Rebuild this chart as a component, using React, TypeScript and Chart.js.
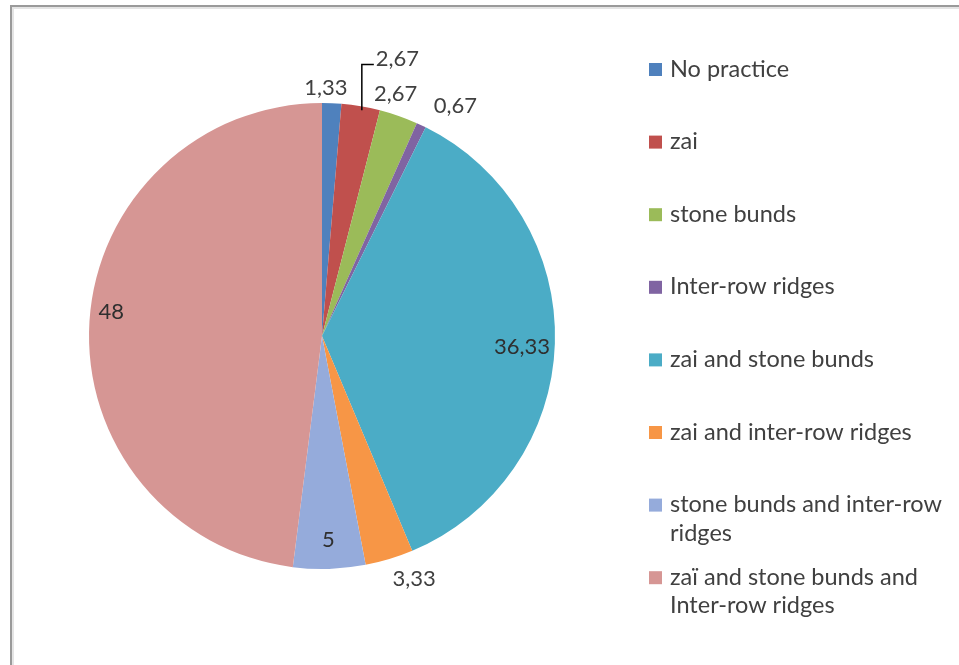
import { useEffect, useRef } from "react";
import { Chart, registerables } from "chart.js";

Chart.register(...registerables);

const categories = [
  "No practice",
  "zai",
  "stone bunds",
  "Inter-row ridges",
  "zai and stone bunds",
  "zai and inter-row ridges",
  "stone bunds and inter-row ridges",
  "zaï and stone bunds and Inter-row ridges",
];
const shares = [1.33, 2.67, 2.67, 0.67, 36.33, 3.33, 5, 48];
const valueLabels = ["1,33", "2,67", "2,67", "0,67", "36,33", "3,33", "5", "48"];
const sliceColors = [
  "#4F81BD",
  "#C0504D",
  "#9BBB59",
  "#8064A2",
  "#4BACC6",
  "#F79646",
  "#95ABDB",
  "#D69694",
];

// label placement: angle adjustment (deg, clockwise) and distance as ratio of radius
const placement: Array<{ mode: string; da?: number; k?: number }> = [
  { mode: "pt", da: -1.5, k: 1.065 },
  { mode: "leader" },
  { mode: "pt", da: -2.3, k: 1.085 },
  { mode: "pt", da: 4.9, k: 1.14 },
  { mode: "pt", da: 1.3, k: 0.86 },
  { mode: "pt", da: -4, k: 1.115 },
  { mode: "pt", da: 0, k: 0.875 },
  { mode: "pt", da: 2.9, k: 0.91 },
];

const VALUE_FONT = "22px Lato";
const LEGEND_FONT = "23.5px Lato";
const TEXT = "#404040";

function wrap(ctx: CanvasRenderingContext2D, text: string, maxW: number) {
  const words = text.split(" ");
  const lines: string[] = [];
  let cur = "";
  for (const w of words) {
    const t = cur ? cur + " " + w : w;
    if (ctx.measureText(t).width > maxW && cur) {
      lines.push(cur);
      cur = w;
    } else cur = t;
  }
  if (cur) lines.push(cur);
  return lines;
}

const decorPlugin = {
  id: "decor",
  beforeDraw(chart: any) {
    const ctx = chart.ctx as CanvasRenderingContext2D;
    ctx.save();
    ctx.fillStyle = "#ffffff";
    ctx.fillRect(0, 0, chart.width, chart.height);
    ctx.strokeStyle = "#e4e4e4";
    ctx.lineWidth = 2;
    ctx.strokeRect(13, 8, chart.width + 20, chart.height + 20);
    ctx.strokeStyle = "#9a9a9a";
    ctx.lineWidth = 2;
    ctx.strokeRect(11, 6, chart.width + 20, chart.height + 20);
    ctx.restore();
  },
  afterDraw(chart: any) {
    const ctx = chart.ctx as CanvasRenderingContext2D;
    const meta = chart.getDatasetMeta(0);
    ctx.save();
    ctx.font = VALUE_FONT;
    ctx.textBaseline = "middle";
    meta.data.forEach((arc: any, i: number) => {
      const { x, y, startAngle, endAngle, outerRadius } = arc.getProps(
        ["x", "y", "startAngle", "endAngle", "outerRadius"],
        true
      );
      const mid = (startAngle + endAngle) / 2;
      const p = placement[i];
      ctx.fillStyle = p.k && p.k < 1 ? "#2f2f2f" : TEXT;
      if (p.mode === "leader") {
        const ex = x + Math.cos(mid) * outerRadius;
        const ey = y + Math.sin(mid) * outerRadius;
        const topY = y - outerRadius * 1.165;
        ctx.strokeStyle = "#000000";
        ctx.lineWidth = 1.5;
        ctx.beginPath();
        ctx.moveTo(ex + 1, ey + 4);
        ctx.lineTo(ex + 1, topY);
        ctx.lineTo(ex + 13, topY);
        ctx.stroke();
        ctx.textAlign = "left";
        ctx.fillText(valueLabels[i], ex + 15, topY - 6);
      } else {
        const a = mid + ((p.da || 0) * Math.PI) / 180;
        const lx = x + Math.cos(a) * outerRadius * (p.k || 1);
        const ly = y + Math.sin(a) * outerRadius * (p.k || 1);
        ctx.textAlign = "center";
        ctx.fillText(valueLabels[i], lx, ly);
      }
    });

    // legend
    ctx.font = LEGEND_FONT;
    const lx = 649;
    const tx = 670;
    const y0 = 69;
    const step = 72.6;
    const lineH = 28.5;
    ctx.textAlign = "left";
    categories.forEach((c, i) => {
      const cy = y0 + i * step;
      ctx.fillStyle = sliceColors[i];
      ctx.fillRect(lx, cy - 6, 13, 13);
      ctx.fillStyle = TEXT;
      const lines = wrap(ctx, c, 282);
      lines.forEach((ln, j) => ctx.fillText(ln, tx, cy + j * lineH));
    });
    ctx.restore();
  },
};

export default function App() {
  const ref = useRef<HTMLCanvasElement | null>(null);
  useEffect(() => {
    document.body.style.margin = "0";
    const canvas = ref.current;
    if (!canvas) return;
    const chart = new Chart(canvas, {
      type: "pie",
      data: {
        labels: categories,
        datasets: [
          {
            data: shares,
            backgroundColor: sliceColors,
            borderWidth: 0,
            hoverOffset: 0,
          },
        ],
      },
      options: {
        responsive: false,
        animation: false,
        layout: { padding: { top: 103, bottom: 96, left: 89, right: 404 } },
        plugins: {
          legend: { display: false },
          tooltip: { enabled: false },
        },
      },
      plugins: [decorPlugin],
    });
    return () => chart.destroy();
  }, []);
  return (
    <div style={{ width: 959, height: 665 }}>
      <canvas ref={ref} width={959} height={665} style={{ display: "block" }} />
    </div>
  );
}
